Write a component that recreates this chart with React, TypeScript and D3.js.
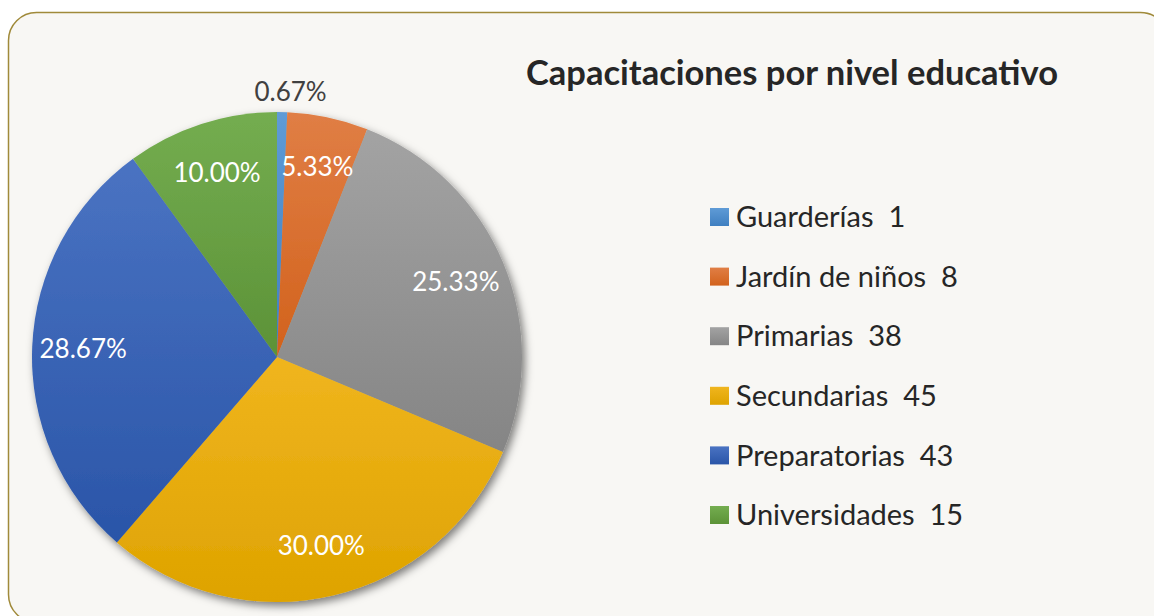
import React, { useEffect, useRef } from 'react';
import * as d3 from 'd3';

const categories = ['Guarderías', 'Jardín de niños', 'Primarias', 'Secundarias', 'Preparatorias', 'Universidades'];
const values = [1, 8, 38, 45, 43, 15];
const colorsTop = ['#5f9bd6', '#e07e45', '#a3a3a3', '#f0b51e', '#4a73c2', '#74ad50'];
const colorsBottom = ['#3f7fc0', '#d2621c', '#858585', '#dea300', '#2a55a8', '#5c9237'];

const W = 1154;
const H = 616;
const FONT = 'Lato, "Open Sans", sans-serif';

const App = () => {
    const ref = useRef<SVGSVGElement>(null);

    useEffect(() => {
        const svg = d3.select(ref.current);
        svg.selectAll('*').remove();

        const defs = svg.append('defs');
        categories.forEach((c, i) => {
            const g = defs.append('linearGradient')
                .attr('id', `grad${i}`)
                .attr('x1', 0).attr('y1', 0).attr('x2', 0).attr('y2', 1);
            g.append('stop').attr('offset', '0%').attr('stop-color', colorsTop[i]);
            g.append('stop').attr('offset', '100%').attr('stop-color', colorsBottom[i]);
        });
        const f = defs.append('filter').attr('id', 'shadow')
            .attr('x', '-20%').attr('y', '-20%').attr('width', '140%').attr('height', '140%');
        f.append('feDropShadow')
            .attr('dx', 3).attr('dy', 4).attr('stdDeviation', 4)
            .attr('flood-color', '#000').attr('flood-opacity', 0.5);

        // frame
        svg.append('rect')
            .attr('x', 8.5).attr('y', 12.5)
            .attr('width', 1160).attr('height', 610)
            .attr('rx', 28).attr('ry', 28)
            .attr('fill', '#f8f7f4')
            .attr('stroke', '#a08a3a').attr('stroke-width', 1.5);

        const cx = 277, cy = 357, r = 245;
        const total = d3.sum(values);
        const pie = d3.pie<number>().sort(null).value(d => d);
        const arcs = pie(values);
        const arc = d3.arc<d3.PieArcDatum<number>>().innerRadius(0).outerRadius(r);
        const labelArc = d3.arc<d3.PieArcDatum<number>>().innerRadius(194).outerRadius(194);
        const outerArc = d3.arc<d3.PieArcDatum<number>>().innerRadius(r + 20).outerRadius(r + 20);

        const g = svg.append('g').attr('transform', `translate(${cx},${cy})`);
        const slices = g.append('g').attr('filter', 'url(#shadow)');
        slices.selectAll('path')
            .data(arcs)
            .enter()
            .append('path')
            .attr('d', arc)
            .attr('fill', (d, i) => `url(#grad${i})`);

        g.selectAll('text.lbl')
            .data(arcs)
            .enter()
            .append('text')
            .attr('class', 'lbl')
            .attr('transform', d => {
                const small = d.value / total < 0.02;
                const [x, y] = small ? outerArc.centroid(d) : labelArc.centroid(d);
                return `translate(${small ? x + 8 : x},${y})`;
            })
            .attr('text-anchor', 'middle')
            .attr('dy', '0.35em')
            .attr('font-family', FONT)
            .attr('font-size', 26)
            .attr('fill', d => (d.value / total < 0.02 ? '#404040' : '#ffffff'))
            .text(d => `${((d.value / total) * 100).toFixed(2)}%`);

        svg.append('text')
            .attr('x', 792).attr('y', 85)
            .attr('text-anchor', 'middle')
            .attr('font-family', FONT)
            .attr('font-weight', 'bold')
            .attr('font-size', 34.5)
            .attr('fill', '#262626')
            .text('Capacitaciones por nivel educativo');

        const legend = svg.append('g').attr('transform', 'translate(710,217)');
        const rows = legend.selectAll('g')
            .data(categories)
            .enter()
            .append('g')
            .attr('transform', (d, i) => `translate(0,${i * 59.6})`);
        rows.append('rect')
            .attr('x', 0).attr('y', -9)
            .attr('width', 19).attr('height', 18)
            .attr('fill', (d, i) => `url(#grad${i})`);
        rows.append('text')
            .attr('x', 26)
            .attr('dy', '0.35em')
            .attr('font-family', FONT)
            .attr('font-size', 29)
            .attr('fill', '#262626')
            .style('white-space', 'pre')
            .text((d, i) => `${d}  ${values[i]}`);
    }, []);

    return (
        <svg ref={ref} width={W} height={H}
            style={{ position: 'absolute', left: 0, top: 0, background: '#fff' }} />
    );
};

export default App;
